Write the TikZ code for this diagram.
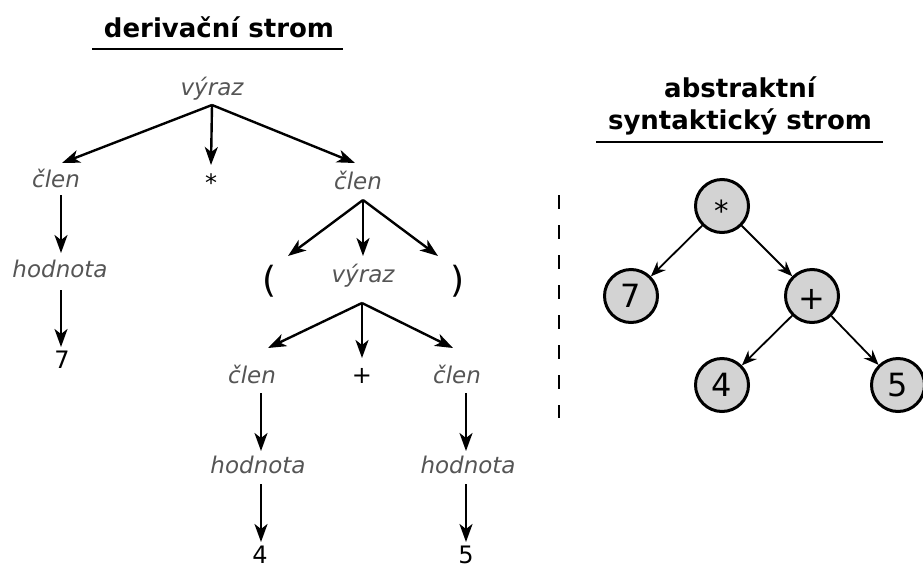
\documentclass[tikz,border=0pt]{standalone}
\usepackage{fontspec}
\setmainfont{DejaVu Sans}
\usetikzlibrary{arrows.meta,calc}
\definecolor{lbl}{RGB}{85,85,85}
\definecolor{cfill}{RGB}{211,211,211}
\tikzset{
  lab/.style={inner sep=0pt, text height=16pt, text depth=5pt, font=\fontsize{23}{26}\selectfont\itshape, text=lbl},
  sym/.style={inner sep=0pt, text height=16pt, text depth=5pt, font=\fontsize{24}{26}\selectfont, text=black},
  par/.style={inner sep=0pt, font=\fontsize{36}{40}\selectfont, text=black},
  ttl/.style={inner sep=0pt, font=\fontsize{26}{31}\selectfont\bfseries, align=center},
  arr/.style={line width=2.4pt, -{Stealth[length=18pt,width=13pt,inset=5pt]}},
  ast/.style={circle, draw, line width=3pt, fill=cfill, minimum size=53pt, inner sep=0pt, text height=23pt, text depth=0pt, font=\fontsize{32}{34}\selectfont},
  aarr/.style={line width=1.8pt, -{Stealth[length=15pt,width=12pt,inset=5pt]}},
  rule/.style={line width=2.8pt}
}
\begin{document}
\begin{tikzpicture}[x=1pt,y=-1pt]
\useasboundingbox (0,0) rectangle (923,568);
% titles
\node[ttl] (t1) at (219,27) {derivační strom};
\coordinate (u1a) at (92,49); \coordinate (u1b) at (343,49);
\draw[rule] (u1a) -- (u1b);
\node[ttl] (t2a) at (740,87) {abstraktní};
\node[ttl] (t2b) at (740,122) {syntaktický strom};
\coordinate (u2a) at (596,142); \coordinate (u2b) at (883,142);
\draw[rule] (u2a) -- (u2b);
% derivation tree
\node[lab] (v1) at (212,90) {výraz};
\node[lab] (c1) at (56,182) {člen};
\node[sym] (s1) at (211,186) {*};
\node[lab] (c2) at (358,184) {člen};
\node[lab] (h1) at (60,272) {hodnota};
\node[sym] (n7) at (62,363) {7};
\node[par] (p1) at (270,281) {(};
\node[lab] (v2) at (363,277) {výraz};
\node[par] (p2) at (458,281) {)};
\node[lab] (c3) at (252,378) {člen};
\node[sym] (s2) at (362,378) {+};
\node[lab] (c4) at (457,378) {člen};
\node[lab] (h2) at (258,468) {hodnota};
\node[sym] (n4) at (260,558) {4};
\node[lab] (h3) at (468,468) {hodnota};
\node[sym] (n5) at (466,558) {5};
\draw[arr] ($(v1)+(0,15)$) -- ($(c1)+(6,-19)$);
\draw[arr] ($(v1)+(0,15)$) -- ($(s1)+(0,-21)$);
\draw[arr] ($(v1)+(0,15)$) -- ($(c2)+(-3,-21)$);
\draw[arr] ($(c1)+(5,13)$) -- ($(h1)+(1,-19)$);
\draw[arr] ($(h1)+(1,18)$) -- ($(n7)+(-1,-16)$);
\draw[arr] ($(c2)+(5,16)$) -- ($(p1)+(18,-25)$);
\draw[arr] ($(c2)+(5,16)$) -- ($(v2)+(0,-21)$);
\draw[arr] ($(c2)+(5,16)$) -- ($(p2)+(-20,-25)$);
\draw[arr] ($(v2)+(-1,26)$) -- ($(c3)+(16,-30)$);
\draw[arr] ($(v2)+(-1,26)$) -- ($(s2)+(0,-20)$);
\draw[arr] ($(v2)+(-1,26)$) -- ($(c4)+(-4,-30)$);
\draw[arr] ($(c3)+(9,15)$) -- ($(h2)+(3,-17)$);
\draw[arr] ($(h2)+(3,16)$) -- ($(n4)+(1,-16)$);
\draw[arr] ($(c4)+(9,15)$) -- ($(h3)+(-2,-17)$);
\draw[arr] ($(h3)+(-2,16)$) -- ($(n5)+(0,-16)$);
% separator
\coordinate (d1) at (559,195); \coordinate (d2) at (559,418);
\draw[line width=2pt, dash pattern=on 14pt off 16pt] (d1) -- (d2);
% abstract syntax tree
\node[ast, font=\fontsize{29}{30}\selectfont] (a1) at (722,206) {\raisebox{-4pt}{*}};
\node[ast] (a2) at (631,296) {7};
\node[ast] (a3) at (812,296) {\raisebox{-2pt}{+}};
\node[ast] (a4) at (722,385) {4};
\node[ast] (a5) at (898,385) {5};
\draw[aarr] (a1) -- (a2);
\draw[aarr] (a1) -- (a3);
\draw[aarr] (a3) -- (a4);
\draw[aarr] (a3) -- (a5);
\end{tikzpicture}
\end{document}
